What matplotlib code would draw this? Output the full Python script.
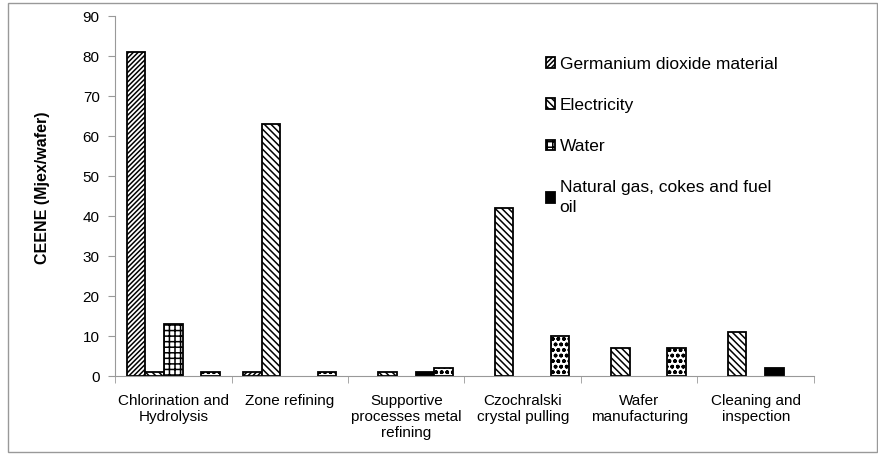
import matplotlib
matplotlib.use("Agg")
import matplotlib.pyplot as plt
import numpy as np
from matplotlib.patches import Rectangle

plt.rcParams['font.family'] = ['Liberation Sans', 'DejaVu Sans']
plt.rcParams['hatch.linewidth'] = 1.1

categories = ["Chlorination and\nHydrolysis", "Zone refining", "Supportive\nprocesses metal\nrefining",
              "Czochralski\ncrystal pulling", "Wafer\nmanufacturing", "Cleaning and\ninspection"]
germanium = [81, 1, 0, 0, 0, 0]
electricity = [1, 63, 1, 42, 7, 11]
water = [13, 0, 0, 0, 0, 0]
natural_gas = [0, 0, 1, 0, 0, 2]
other = [1, 1, 2, 10, 7, 0]

series = [
    ("Germanium dioxide material", germanium, "white", "///////"),
    ("Electricity", electricity, "white", "\\\\\\\\\\"),
    ("Water", water, "white", "+++"),
    ("Natural gas, cokes and fuel\noil", natural_gas, "black", ".."),
    (None, other, "white", "ooo"),
]

fig = plt.figure(figsize=(8.79, 4.55), dpi=100)
ax = fig.add_axes([115/879, 79/455, 699/879, 360/455])

x = np.arange(len(categories))
n = len(series)
w = 0.16
handles = []
for i, (name, vals, fc, hatch) in enumerate(series):
    pos = x + (i - (n - 1) / 2) * w
    vals = np.array(vals, dtype=float)
    mask = vals > 0
    bars = ax.bar(pos[mask], vals[mask], width=w, color=fc, edgecolor="black",
                  hatch=hatch, linewidth=1.3, label=name if name else "_nolegend_")
    if name:
        handles.append(bars)

ax.set_xlim(-0.5, len(categories) - 0.5)
ax.set_ylim(0, 90)
ax.set_yticks(np.arange(0, 91, 10))
ax.set_xticks(x)
ax.set_xticklabels(categories, fontsize=11)
ax.set_xticks(np.arange(-0.5, len(categories), 1), minor=True)
ax.tick_params(axis='x', which='major', length=0, pad=13)
ax.tick_params(axis='x', which='minor', length=5, color='#999999')
ax.tick_params(axis='y', length=5, color='#999999', labelsize=11, pad=6)
for s in ['top', 'right']:
    ax.spines[s].set_visible(False)
for s in ['left', 'bottom']:
    ax.spines[s].set_color('#999999')
ax.set_ylabel("CEENE (Mjex/wafer)", fontsize=11.5, fontweight='bold')
ax.yaxis.set_label_coords(-0.093, 0.522)

leg = ax.legend(handles=handles, loc='upper left', bbox_to_anchor=(0.594, 0.93), frameon=False,
                fontsize=12.5, handlelength=0.55, handleheight=0.55, handletextpad=0.25,
                labelspacing=1.5)
for t in leg.get_texts():
    t.set_linespacing(1.45)

fig.patches.append(Rectangle((8/879, 3/455), 869/879, 449/455, transform=fig.transFigure,
                             fill=False, edgecolor='#999999', linewidth=1))

fig.savefig("out.png", dpi=100)
